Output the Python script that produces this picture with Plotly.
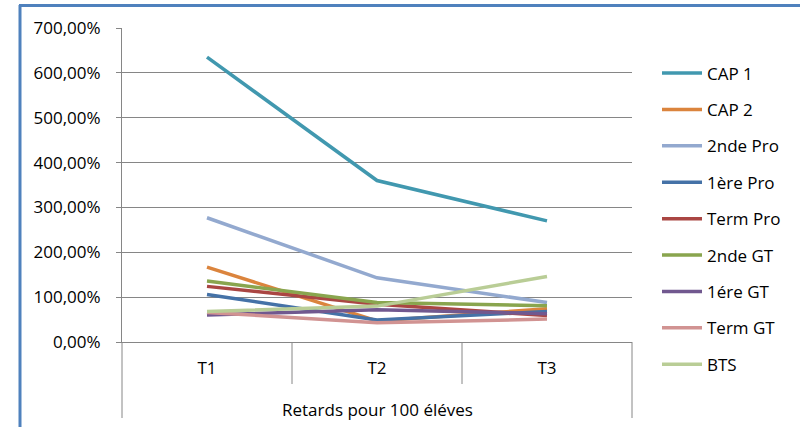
import plotly.graph_objects as go

periods = ["T1", "T2", "T3"]
group_label = "Retards pour 100 éléves"
series_names = ["CAP 1", "CAP 2", "2nde Pro", "1ère Pro", "Term Pro",
                "2nde GT", "1ére GT", "Term GT", "BTS"]
cap1 = [6.35, 3.60, 2.70]
cap2 = [1.67, 0.47, 0.74]
seconde_pro = [2.77, 1.43, 0.88]
premiere_pro = [1.06, 0.49, 0.68]
term_pro = [1.24, 0.84, 0.59]
seconde_gt = [1.36, 0.88, 0.81]
premiere_gt = [0.60, 0.72, 0.63]
term_gt = [0.66, 0.43, 0.51]
bts = [0.68, 0.80, 1.46]
series_values = [cap1, cap2, seconde_pro, premiere_pro, term_pro,
                 seconde_gt, premiere_gt, term_gt, bts]
colors = ["#4198AF", "#DB843D", "#93A9CF", "#4572A7", "#AA4643",
          "#89A54E", "#71588F", "#D19392", "#B9CD96"]

W, H = 800, 427
L, R, T, B = 122, 168, 28, 85
PW, PH = W - L - R, H - T - B

def px(x):
    return (x - L) / PW

def py(y):
    return (H - B - y) / PH

FONT = "Open Sans"
FS = 17
grid = "#868686"

fig = go.Figure()
for i, (name, vals) in enumerate(zip(series_names, series_values)):
    fig.add_trace(go.Scatter(
        x=periods, y=vals, name=name,
        mode="lines", line=dict(color=colors[i], width=3.5),
        legendgroup=f"g{i}"))

shapes = [
    # outer frame of the category axis
    dict(type="line", xref="paper", yref="paper", x0=0, x1=0,
         y0=0, y1=py(418), line=dict(color=grid, width=1)),
    dict(type="line", xref="paper", yref="paper", x0=1, x1=1,
         y0=0, y1=py(418), line=dict(color=grid, width=1)),
    # page border
    dict(type="line", xref="paper", yref="paper", x0=px(20), x1=px(20),
         y0=py(5), y1=py(H + 2), line=dict(color="#4F81BD", width=3)),
    dict(type="line", xref="paper", yref="paper", x0=px(19), x1=px(W + 2),
         y0=py(5.5), y1=py(5.5), line=dict(color="#4F81BD", width=3)),
]
# category separators
for k in range(len(periods) - 1):
    shapes.append(dict(type="line", xref="x", yref="paper", x0=k + 0.5,
                       x1=k + 0.5, y0=0, y1=py(384),
                       line=dict(color=grid, width=1)))

fig.update_layout(
    width=W, height=H,
    margin=dict(l=L, r=R, t=T, b=B),
    paper_bgcolor="white", plot_bgcolor="white",
    separators=", ",
    font=dict(family=FONT, size=FS, color="#000000"),
    showlegend=True,
    legend=dict(x=px(657), y=py(55.5), xanchor="left", yanchor="top",
                tracegroupgap=11.3, itemwidth=40,
                font=dict(size=FS, family=FONT),
                bgcolor="rgba(0,0,0,0)", maxheight=420),
    xaxis=dict(type="category", range=[-0.5, len(periods) - 0.5],
               showgrid=False, showline=True, linecolor=grid, linewidth=1,
               ticks="", ticklabelstandoff=11, zeroline=False,
               tickfont=dict(size=FS, family=FONT)),
    yaxis=dict(range=[0, 7], dtick=1, tickformat=".2%", showgrid=True,
               gridcolor=grid, gridwidth=1, showline=True, linecolor=grid,
               linewidth=1, ticks="outside", ticklen=5, tickcolor=grid,
               ticklabelstandoff=12, zeroline=False,
               tickfont=dict(size=FS, family=FONT)),
    shapes=shapes,
    annotations=[dict(text=group_label, xref="x", yref="paper",
                      x=(len(periods) - 1) / 2, y=py(409), showarrow=False,
                      xanchor="center", yanchor="middle",
                      font=dict(size=FS, family=FONT))],
)
fig.write_html("out.html", config={"displayModeBar": False},
               post_script="document.body.style.margin='0';")
